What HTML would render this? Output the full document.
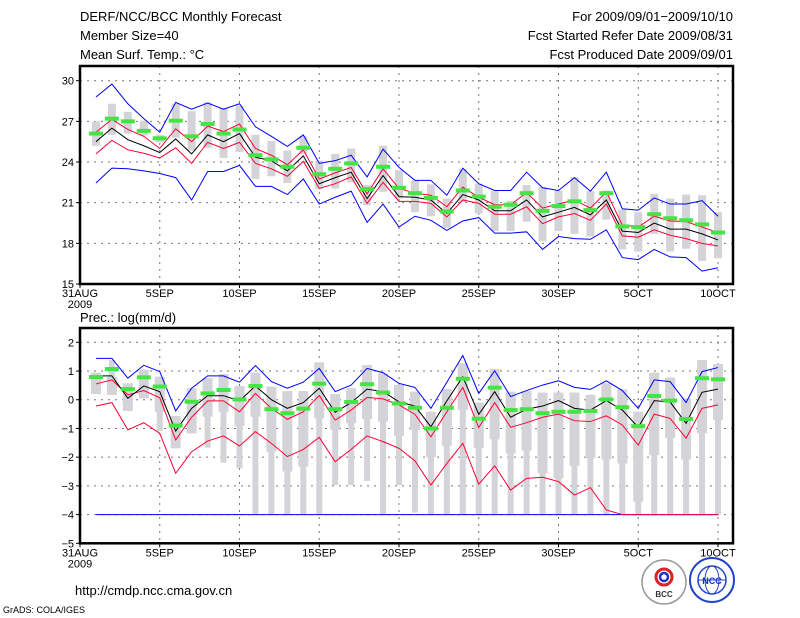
<!DOCTYPE html>
<html><head><meta charset="utf-8"><style>
body{margin:0;background:#fff;}
svg{display:block;font-family:"Liberation Sans",sans-serif;}
</style></head><body>
<svg id="chart" width="800" height="618" viewBox="0 0 800 618" xmlns="http://www.w3.org/2000/svg">
<rect width="800" height="618" fill="#fff"/>
<g font-size="13" fill="#000">
<text x="80" y="21">DERF/NCC/BCC Monthly Forecast</text>
<text x="80" y="40">Member Size=40</text>
<text x="80" y="59">Mean Surf. Temp.: °C</text>
<text x="733" y="21" text-anchor="end">For 2009/09/01−2009/10/10</text>
<text x="733" y="40" text-anchor="end">Fcst Started Refer Date 2009/08/31</text>
<text x="733" y="59" text-anchor="end">Fcst Produced Date 2009/09/01</text>
<text x="80" y="322">Prec.: log(mm/d)</text>
<text x="75" y="595">http://cmdp.ncc.cma.gov.cn</text>
<text x="3" y="613" font-size="9">GrADS: COLA/IGES</text>
</g>
<g>
<circle cx="664" cy="582" r="22" fill="#fff" stroke="#999" stroke-width="1.5"/>
<circle cx="664" cy="577" r="8" fill="none" stroke="#d22" stroke-width="3"/>
<circle cx="664" cy="577" r="4" fill="none" stroke="#23c" stroke-width="2.5"/>
<text x="664" y="597" font-size="8" text-anchor="middle" font-weight="bold" fill="#333">BCC</text>
</g>
<g>
<circle cx="712" cy="580" r="22" fill="#fff" stroke="#24c" stroke-width="2"/>
<ellipse cx="712" cy="580" rx="14" ry="14" fill="none" stroke="#24c" stroke-width="1.5"/>
<ellipse cx="712" cy="580" rx="7" ry="14" fill="none" stroke="#24c" stroke-width="1"/>
<line x1="698" y1="580" x2="726" y2="580" stroke="#24c"/>
<text x="712" y="584" font-size="9" text-anchor="middle" font-weight="bold" fill="#13b">NCC</text>
</g>
<g id="top"></g>
<g id="bot"></g>
</svg>
<script>
// ---- data: day index (1 = 1SEP ... 40 = 10OCT) ----
const days = Array.from({length:40},(_,i)=>i+1);
const xTickDays = [0,5,10,15,20,25,30,35,40];
const xTickLabels = ["31AUG","5SEP","10SEP","15SEP","20SEP","25SEP","30SEP","5OCT","10OCT"];
const tempTicks = [15,18,21,24,27,30];
const precTicks = [-5,-4,-3,-2,-1,0,1,2];

// temperature panel
const tBlueHi = [28.8,29.75,28.3,27.2,26.2,28.4,27.9,28.35,27.9,28.3,26.6,25.9,25.15,26.0,23.9,24.1,24.5,22.9,24.95,23.6,22.65,22.65,21.55,23.55,22.4,21.9,21.9,23.25,22.1,21.9,22.85,21.85,23.25,20.55,20.45,21.35,20.9,20.9,21.15,20.0];
const tBlueLo = [22.45,23.55,23.5,23.35,23.15,22.85,21.2,23.3,23.3,23.75,22.2,22.2,21.6,22.75,20.9,21.4,21.85,19.55,20.9,19.2,20.0,19.7,18.95,19.65,19.9,18.75,18.75,18.85,17.55,18.5,18.35,18.3,19.0,16.95,16.8,17.55,17.0,16.95,15.95,16.2];
const tRedHi = [26.2,27.15,26.4,25.9,25.0,26.45,25.5,26.65,26.25,26.8,25.0,24.5,23.8,24.9,22.75,23.2,23.6,21.65,23.5,22.05,21.7,21.55,20.7,22.15,21.4,20.85,20.85,21.75,20.6,20.9,21.2,20.6,21.8,19.35,19.2,20.0,19.65,19.6,19.2,18.8];
const tRedLo = [24.6,25.6,24.9,24.65,24.3,25.05,23.9,25.45,25.0,25.45,23.9,23.5,22.95,24.05,22.05,22.4,22.9,20.95,22.5,21.1,21.1,20.95,19.95,21.2,20.95,20.15,20.15,20.7,19.45,19.95,20.2,19.7,20.9,18.55,18.45,19.0,18.6,18.35,18.0,17.8];
const tMean = [25.5,26.5,25.65,25.2,24.7,25.7,24.6,26.0,25.5,26.1,24.35,24.1,23.35,24.45,22.4,22.85,23.25,21.3,23.0,21.45,21.4,21.2,20.2,21.6,21.2,20.4,20.4,21.2,19.95,20.3,20.65,20.1,21.2,18.9,18.8,19.5,19.05,19.05,18.7,18.25];
const tObs = [26.1,27.2,27.0,26.3,25.75,27.05,25.9,26.8,26.1,26.4,24.5,24.2,23.65,25.05,23.1,23.5,23.9,22.0,23.65,22.1,21.7,21.35,20.35,21.9,21.45,20.7,20.85,21.7,20.4,20.75,21.1,20.45,21.7,19.25,19.2,20.15,19.85,19.7,19.4,18.8];
const tRangeHi = [27.0,28.3,27.7,27.05,26.0,28.3,27.75,28.4,28.0,28.15,26.0,25.55,24.85,25.9,24.1,24.6,25.0,22.3,25.2,23.4,22.65,22.35,21.3,23.5,22.4,21.85,21.15,22.3,22.15,21.9,22.9,21.85,21.9,20.5,20.3,21.65,21.3,21.6,21.55,20.3];
const tRangeLo = [25.2,26.0,26.1,25.95,25.45,25.8,24.85,25.05,24.3,24.75,22.75,22.95,22.45,24.6,22.0,22.05,22.5,20.8,21.8,21.3,20.3,20.0,19.15,21.05,20.2,18.9,18.9,19.6,18.15,18.9,18.7,18.5,19.75,17.55,17.4,18.7,17.4,17.6,16.7,16.9];

// precipitation panel
const pBlueHi = [1.44,1.44,0.75,1.2,0.98,-0.39,0.4,0.83,0.83,0.61,1.19,0.63,0.4,0.61,1.09,0.28,0.51,1.09,0.94,0.57,0.43,-0.3,0.61,1.54,0.22,1.01,0.11,0.32,0.51,0.66,0.43,0.36,0.66,0.32,-0.3,0.69,0.63,-0.1,0.98,1.12];
const pBlueLo = Array(40).fill(-4);
const pRedHi = [0.55,0.69,0.17,0.32,0.07,-1.4,-0.61,-0.04,-0.04,-0.42,0.22,-0.3,-0.68,-0.42,0.15,-0.71,-0.36,0.08,0.03,-0.18,-0.51,-1.29,-0.42,0.43,-0.97,-0.1,-0.96,-0.8,-0.61,-0.5,-0.73,-0.76,-0.56,-0.88,-1.58,-0.5,-0.65,-1.34,-0.3,-0.18];
const pRedLo = [-0.22,-0.1,-1.05,-0.8,-1.17,-2.56,-1.81,-1.44,-1.26,-1.61,-1.11,-1.52,-1.98,-1.73,-1.31,-2.16,-1.73,-1.26,-1.46,-1.69,-2.13,-2.97,-2.22,-1.52,-2.94,-2.3,-3.15,-2.74,-2.7,-2.85,-3.32,-3.06,-3.84,-4,-4,-4,-4,-4,-4,-4];
const pMean = [0.83,0.83,0.05,0.48,0.28,-1.09,-0.3,0.14,0.14,-0.04,0.48,0.0,-0.3,-0.1,0.4,-0.44,-0.1,0.37,0.28,-0.07,-0.22,-0.94,-0.04,0.8,-0.51,0.28,-0.61,-0.33,-0.22,-0.03,-0.3,-0.36,-0.03,-0.36,-0.96,-0.03,-0.08,-0.82,0.26,0.37];
const pObs = [0.79,1.07,0.37,0.78,0.46,-0.9,-0.07,0.22,0.34,0.01,0.48,-0.33,-0.47,-0.31,0.56,-0.33,-0.08,0.54,0.25,-0.13,-0.28,-1.0,-0.28,0.73,-0.66,0.42,-0.36,-0.33,-0.47,-0.42,-0.42,-0.39,0.01,-0.26,-0.92,0.13,-0.03,-0.67,0.75,0.71];
const pBoxHi = [0.94,0.8,0.57,1.04,0.8,-0.57,0.4,0.75,0.89,0.48,0.94,0.46,0.3,0.3,1.3,0.2,0.4,1.21,0.92,0.51,0.28,-0.42,0.37,1.27,-0.1,1.07,0.28,0.3,0.25,0.25,0.25,0.17,0.57,0.36,-0.42,0.94,0.77,0.05,1.38,1.24];
const pBoxLo = [0.2,0.17,-0.39,0.05,-0.42,-1.69,-1.17,-0.59,-0.42,-0.92,-0.59,-1.81,-2.5,-2.33,-0.65,-1.05,-0.82,-0.68,-0.76,-1.26,-1.05,-2.0,-1.61,-0.36,-1.69,-1.38,-1.87,-1.77,-2.56,-2.74,-2.31,-2.04,-2.08,-2.22,-3.55,-1.93,-1.34,-2.08,-1.17,-0.71];
const pWhiskHi = [0.94,1.38,0.57,1.04,0.8,-0.57,0.4,0.75,0.89,0.48,0.94,0.46,0.3,0.3,1.3,0.2,0.4,1.21,0.92,0.51,0.28,-0.42,0.37,1.27,-0.1,1.07,0.28,0.3,0.25,0.25,0.25,0.17,0.57,0.36,-0.42,0.94,0.77,0.05,1.38,1.24];
const pWhiskLo = [0.2,0.17,-0.39,0.05,-1.09,-1.69,-1.17,-1.67,-2.19,-2.39,-4,-4,-4,-4,-4,-2.97,-2.97,-2.83,-4,-2.97,-3.93,-4,-4,-4,-4,-4,-4,-4,-4,-4,-4,-4,-4,-4,-4,-4,-4,-4,-4,-4];

const NS="http://www.w3.org/2000/svg";
const X0=80, DX=15.95, XR=733;
function xs(d){return X0+d*DX;}
function mk(parent,tag,attrs){const e=document.createElementNS(NS,tag);for(const k in attrs)e.setAttribute(k,attrs[k]);parent.appendChild(e);return e;}

function panel(g,top,bot,vmin,vmax,ticks,yMapTop,yMapBot){
  const ys=v=>yMapTop+(vmax-v)*(yMapBot-yMapTop)/(vmax-vmin);
  return ys;
}

function drawPanel(g,o){
  const ys=v=>o.yTop+(o.vTop-v)*(o.yBot-o.yTop)/(o.vTop-o.vBot);
  // grid
  o.ticks.forEach(t=>{
    const y=ys(t);
    if(t>o.vBot){const l=mk(g,'line',{x1:X0,x2:XR,y1:y,y2:y,stroke:'#777','stroke-dasharray':'2,5','stroke-width':1});
    
    }
    mk(g,'line',{x1:X0-4,x2:X0,y1:y,y2:y,stroke:'#000'});
    const tx=mk(g,'text',{x:X0-6,y:y+4,'font-size':11,'text-anchor':'end'});tx.textContent=String(t).replace('-','−');
    
    
  });
  xTickDays.forEach((d,i)=>{
    const x=xs(d);
    if(d>0){const l=mk(g,'line',{x1:x,x2:x,y1:o.frameTop,y2:o.frameBot,stroke:'#777','stroke-dasharray':'2,5'});
    
    }
    mk(g,'line',{x1:x,x2:x,y1:o.frameBot,y2:o.frameBot+4,stroke:'#000'});
    const tx=mk(g,'text',{x:x,y:o.frameBot+13,'font-size':11,'text-anchor':'middle'});tx.textContent=xTickLabels[i];
    
    
  });
  const yr=mk(g,'text',{x:X0,y:o.frameBot+24,'font-size':11,'text-anchor':'middle'});yr.textContent='2009';
  
  
  // gray ranges
  days.forEach((d,i)=>{
    if(o.wHi){const r=mk(g,'rect',{x:xs(d)-3,width:6,y:ys(o.wHi[i]),height:Math.max(1,ys(o.wLo[i])-ys(o.wHi[i])),fill:'#d4d4d8'});
    
    }
    const b=mk(g,'rect',{x:xs(d)-o.bw/2,width:o.bw,y:ys(o.bHi[i]),height:Math.max(1,ys(o.bLo[i])-ys(o.bHi[i])),fill:'#d4d4d8'});
    
    
  });
  const line=(arr,col,name)=>{const p=mk(g,'polyline',{points:days.map((d,i)=>xs(d)+','+ys(arr[i])).join(' '),fill:'none',stroke:col,'stroke-width':1});
    
    };
  line(o.blo,'#0000ff','blue-min-line');
  line(o.bhi,'#0000ff','blue-max-line');
  line(o.rlo,'#ff0033','red-lower-line');
  line(o.rhi,'#ff0033','red-upper-line');
  line(o.mean,'#000','ensemble-mean-line');
  days.forEach((d,i)=>{const r=mk(g,'rect',{x:xs(d)-7,width:14,y:ys(o.obs[i])-2,height:4,fill:'#44e444'});
    
    });
  const f=mk(g,'rect',{x:X0,y:o.frameTop,width:XR-X0,height:o.frameBot-o.frameTop,fill:'none',stroke:'#000','stroke-width':2.5});
  
  
}
const gt=document.getElementById('top');


drawPanel(gt,{yTop:80.7,yBot:284,vTop:30,vBot:15,frameTop:66,frameBot:284,ticks:tempTicks,bw:8,
  bHi:tRangeHi,bLo:tRangeLo,bhi:tBlueHi,blo:tBlueLo,rhi:tRedHi,rlo:tRedLo,mean:tMean,obs:tObs});
const gb=document.getElementById('bot');


drawPanel(gb,{yTop:342.3,yBot:543.3,vTop:2,vBot:-5,frameTop:328,frameBot:543.3,ticks:precTicks,bw:10,
  wHi:pWhiskHi,wLo:pWhiskLo,bHi:pBoxHi,bLo:pBoxLo,bhi:pBlueHi,blo:pBlueLo,rhi:pRedHi,rlo:pRedLo,mean:pMean,obs:pObs});
</script>
</body></html>
